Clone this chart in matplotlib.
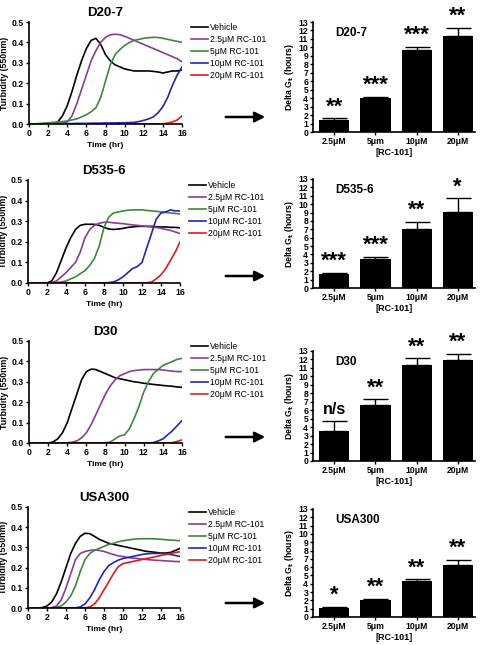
import matplotlib
matplotlib.use("Agg")
import matplotlib.pyplot as plt
import numpy as np

plt.rcParams['font.family'] = ['Liberation Sans', 'DejaVu Sans']

# ---------------- data ----------------
hours = [0, 0.5, 1, 1.5, 2, 2.5, 3, 3.5, 4, 4.5, 5, 5.5, 6, 6.5, 7, 7.5, 8,
         8.5, 9, 9.5, 10, 10.5, 11, 11.5, 12, 12.5, 13, 13.5, 14, 14.5, 15, 15.5, 16]

series_names = ["Vehicle", "2.5\u03bcM RC-101", "5\u03bcM RC-101", "10\u03bcM RC-101", "20\u03bcM RC-101"]
strains = ["D20-7", "D535-6", "D30", "USA300"]

# D20-7
d207_vehicle = [0, 0, 0, 0, 0, 0.002, 0.01, 0.04, 0.09, 0.16, 0.24, 0.31, 0.37, 0.41, 0.42, 0.39, 0.34,
                0.31, 0.29, 0.28, 0.27, 0.265, 0.26, 0.26, 0.26, 0.26, 0.258, 0.255, 0.25, 0.255, 0.26, 0.26, 0.265]
d207_c25 = [0, 0, 0, 0, 0.001, 0.002, 0.003, 0.005, 0.01, 0.04, 0.10, 0.17, 0.24, 0.31, 0.36, 0.40, 0.425,
            0.437, 0.44, 0.438, 0.43, 0.42, 0.41, 0.40, 0.39, 0.38, 0.37, 0.36, 0.35, 0.34, 0.33, 0.32, 0.305]
d207_c5 = [0, 0, 0.002, 0.004, 0.006, 0.008, 0.01, 0.012, 0.015, 0.02, 0.025, 0.035, 0.045, 0.06, 0.08, 0.13, 0.21,
           0.29, 0.34, 0.365, 0.385, 0.40, 0.41, 0.415, 0.42, 0.423, 0.425, 0.424, 0.42, 0.415, 0.41, 0.405, 0.40]
d207_c10 = [0, 0, 0, 0, 0, 0, 0.001, 0.001, 0.002, 0.002, 0.003, 0.003, 0.003, 0.004, 0.004, 0.004, 0.005,
            0.005, 0.005, 0.006, 0.006, 0.007, 0.008, 0.012, 0.018, 0.025, 0.035, 0.055, 0.085, 0.13, 0.19, 0.24, 0.28]
d207_c20 = [0, 0, 0, 0, 0, 0, 0, 0, 0, 0, 0, 0, 0, 0, 0, 0, 0,
            0, 0, 0, 0, 0, 0, 0, 0, 0, 0, 0, 0.001, 0.005, 0.01, 0.02, 0.04]

# D535-6
d535_vehicle = [0, 0, 0, 0, 0, 0.01, 0.05, 0.11, 0.17, 0.22, 0.26, 0.28, 0.285, 0.285, 0.285, 0.28, 0.27,
                0.262, 0.26, 0.262, 0.265, 0.27, 0.272, 0.275, 0.275, 0.275, 0.275, 0.273, 0.272, 0.272, 0.27, 0.27, 0.268]
d535_c25 = [0, 0, 0, 0, 0, 0.002, 0.01, 0.03, 0.05, 0.075, 0.10, 0.15, 0.22, 0.26, 0.28, 0.29, 0.295,
            0.295, 0.292, 0.29, 0.288, 0.285, 0.282, 0.28, 0.277, 0.275, 0.272, 0.27, 0.265, 0.26, 0.255, 0.248, 0.24]
d535_c5 = [0, 0, 0, 0, 0, 0, 0.002, 0.005, 0.01, 0.02, 0.03, 0.045, 0.06, 0.085, 0.12, 0.18, 0.27,
           0.32, 0.34, 0.345, 0.35, 0.353, 0.355, 0.355, 0.355, 0.352, 0.35, 0.348, 0.345, 0.342, 0.34, 0.338, 0.335]
d535_c10 = [0, 0, 0, 0, 0, 0, 0, 0, 0, 0, 0, 0, 0, 0, 0, 0, 0.001,
            0.002, 0.005, 0.015, 0.03, 0.05, 0.07, 0.08, 0.10, 0.17, 0.24, 0.31, 0.34, 0.345, 0.355, 0.35, 0.35]
d535_c20 = [0, 0, 0, 0, 0, 0, 0, 0, 0, 0, 0, 0, 0, 0, 0, 0, 0,
            0, 0, 0, 0, 0, 0, 0, 0, 0.001, 0.005, 0.02, 0.04, 0.07, 0.11, 0.15, 0.20]

# D30
d30_vehicle = [0, 0, 0, 0, 0, 0.005, 0.02, 0.05, 0.10, 0.17, 0.24, 0.31, 0.35, 0.362, 0.36, 0.35, 0.34,
               0.33, 0.32, 0.315, 0.31, 0.305, 0.30, 0.297, 0.293, 0.29, 0.287, 0.285, 0.282, 0.28, 0.278, 0.275, 0.273]
d30_c25 = [0, 0, 0, 0, 0, 0, 0, 0, 0.001, 0.004, 0.01, 0.025, 0.05, 0.09, 0.14, 0.19, 0.24,
           0.28, 0.31, 0.33, 0.34, 0.35, 0.355, 0.357, 0.36, 0.36, 0.36, 0.36, 0.358, 0.355, 0.352, 0.35, 0.35]
d30_c5 = [0, 0, 0, 0, 0, 0, 0, 0, 0, 0, 0, 0, 0, 0, 0, 0, 0.001,
          0.005, 0.02, 0.035, 0.04, 0.07, 0.12, 0.18, 0.25, 0.30, 0.34, 0.36, 0.38, 0.39, 0.40, 0.41, 0.415]
d30_c10 = [0, 0, 0, 0, 0, 0, 0, 0, 0, 0, 0, 0, 0, 0, 0, 0, 0,
           0, 0, 0, 0, 0, 0, 0, 0, 0, 0.002, 0.01, 0.02, 0.04, 0.06, 0.085, 0.11]
d30_c20 = [0, 0, 0, 0, 0, 0, 0, 0, 0, 0, 0, 0, 0, 0, 0, 0, 0,
           0, 0, 0, 0, 0, 0, 0, 0, 0, 0, 0, 0, 0, 0.002, 0.008, 0.015]

# USA300
usa_vehicle = [0, 0, 0, 0.002, 0.01, 0.03, 0.07, 0.13, 0.20, 0.27, 0.32, 0.355, 0.37, 0.368, 0.355, 0.34, 0.33,
               0.32, 0.315, 0.31, 0.305, 0.30, 0.295, 0.29, 0.285, 0.28, 0.278, 0.275, 0.272, 0.272, 0.275, 0.285, 0.295]
usa_c25 = [0, 0, 0, 0, 0, 0.002, 0.01, 0.04, 0.10, 0.17, 0.24, 0.27, 0.28, 0.285, 0.288, 0.285, 0.28,
           0.272, 0.265, 0.258, 0.255, 0.25, 0.247, 0.245, 0.242, 0.24, 0.238, 0.236, 0.235, 0.233, 0.232, 0.23, 0.23]
usa_c5 = [0, 0, 0, 0, 0, 0, 0.003, 0.01, 0.03, 0.06, 0.11, 0.18, 0.24, 0.27, 0.285, 0.295, 0.305,
          0.315, 0.32, 0.328, 0.333, 0.336, 0.34, 0.342, 0.343, 0.343, 0.343, 0.342, 0.34, 0.338, 0.336, 0.335, 0.333]
usa_c10 = [0, 0, 0, 0, 0, 0, 0, 0, 0, 0, 0.001, 0.005, 0.02, 0.05, 0.09, 0.14, 0.18,
           0.21, 0.225, 0.237, 0.245, 0.25, 0.255, 0.26, 0.265, 0.268, 0.27, 0.27, 0.27, 0.268, 0.265, 0.26, 0.255]
usa_c20 = [0, 0, 0, 0, 0, 0, 0, 0, 0, 0, 0, 0, 0.001, 0.005, 0.02, 0.05, 0.09,
           0.13, 0.17, 0.205, 0.22, 0.225, 0.23, 0.235, 0.24, 0.245, 0.25, 0.255, 0.26, 0.265, 0.27, 0.275, 0.278]

curves = {
    "D20-7": [d207_vehicle, d207_c25, d207_c5, d207_c10, d207_c20],
    "D535-6": [d535_vehicle, d535_c25, d535_c5, d535_c10, d535_c20],
    "D30": [d30_vehicle, d30_c25, d30_c5, d30_c10, d30_c20],
    "USA300": [usa_vehicle, usa_c25, usa_c5, usa_c10, usa_c20],
}

bar_labels = ["2.5\u03bcM", "5\u03bcm", "10\u03bcM", "20\u03bcM"]
bar_means = {
    "D20-7": [1.4, 4.0, 9.7, 11.3],
    "D535-6": [1.7, 3.5, 7.0, 9.1],
    "D30": [3.5, 6.6, 11.3, 11.9],
    "USA300": [1.1, 2.1, 4.3, 6.3],
}
bar_errs = {
    "D20-7": [0.2, 0.15, 0.4, 1.0],
    "D535-6": [0.1, 0.2, 0.9, 1.6],
    "D30": [1.2, 0.7, 0.85, 0.8],
    "USA300": [0.1, 0.1, 0.25, 0.6],
}
bar_sig = {
    "D20-7": ["**", "***", "***", "**"],
    "D535-6": ["***", "***", "**", "*"],
    "D30": ["n/s", "**", "**", "**"],
    "USA300": ["*", "**", "**", "**"],
}

colors = ["#000000", "#8A3C98", "#3A8A3A", "#2424B8", "#E41A1A"]

# ---------------- layout ----------------
W, H = 480, 645
fig = plt.figure(figsize=(W / 100, H / 100), dpi=100)

def fx(px):
    return px / W

def fy(py):
    return 1 - py / H

left_boxes = [(29, 182, 22, 124), (28, 180, 180, 283), (29, 182, 341, 443), (28, 180, 507, 608)]
right_boxes = [(313, 475, 22, 132), (313, 475, 179, 288), (313, 475, 351, 461), (313, 475, 509, 617)]
arrow_y = [117, 276, 437, 603]

tick_fs = 6.2

for i, strain in enumerate(strains):
    # ---- left growth curves ----
    x0, x1, y0, y1 = left_boxes[i]
    ax = fig.add_axes([fx(x0), fy(y1), fx(x1) - fx(x0), (y1 - y0) / H])
    for name, vals, c in zip(series_names, curves[strain], colors):
        ax.plot(hours, vals, color=c, lw=1.2, label=name)
    ax.set_xlim(0, 16)
    ax.set_ylim(0, 0.5)
    ax.set_xticks([0, 2, 4, 6, 8, 10, 12, 14, 16])
    ax.set_yticks([0.0, 0.1, 0.2, 0.3, 0.4, 0.5])
    ax.set_yticklabels(["0.0", "0.1", "0.2", "0.3", "0.4", "0.5"])
    for s in ["top", "right"]:
        ax.spines[s].set_visible(False)
    for s in ["left", "bottom"]:
        ax.spines[s].set_linewidth(1.2)
    ax.tick_params(labelsize=tick_fs, length=2.5, width=1.0, pad=1)
    for lb in ax.get_xticklabels() + ax.get_yticklabels():
        lb.set_fontweight("bold")
    ax.set_xlabel("Time (hr)", fontsize=6.0, fontweight="bold", labelpad=3)
    ax.set_ylabel("Turbidity (550nm)", fontsize=6.3, fontweight="bold", labelpad=2)
    ax.set_title(strain, fontsize=9.5, fontweight="bold", pad=4)
    ax.legend(loc="upper left", bbox_to_anchor=(1.055, 1.0), frameon=False,
              fontsize=6.2, handlelength=2.0, handletextpad=0.15, labelspacing=0.35,
              borderaxespad=0.0, borderpad=0.1)

    # ---- arrow ----
    fig.patches.append(matplotlib.patches.FancyArrowPatch(
        (fx(223), fy(arrow_y[i])), (fx(268), fy(arrow_y[i])),
        transform=fig.transFigure, arrowstyle="-|>,head_length=6,head_width=3",
        color="black", lw=1.8, mutation_scale=1))

    # ---- right bar chart ----
    x0, x1, y0, y1 = right_boxes[i]
    bx = fig.add_axes([fx(x0), fy(y1), fx(x1) - fx(x0), (y1 - y0) / H])
    pos = np.arange(len(bar_labels))
    means = bar_means[strain]
    errs = bar_errs[strain]
    bx.bar(pos, means, width=0.73, color="black")
    bx.errorbar(pos, means, yerr=[[0] * len(errs), errs], fmt="none", ecolor="black",
                elinewidth=1.0, capsize=9, capthick=1.0)
    for p, m, e, s in zip(pos, means, errs, bar_sig[strain]):
        if s == "n/s":
            bx.text(p, m + e + 0.5, s, ha="center", va="bottom", fontsize=11.5, fontweight="bold")
        else:
            bx.text(p, m + e + 0.1, s, ha="center", va="bottom", fontsize=16, fontweight="bold")
    bx.set_xlim(-0.52, 3.42)
    bx.set_ylim(0, 13)
    bx.set_yticks(list(range(0, 14)))
    bx.set_xticks(pos)
    bx.set_xticklabels(bar_labels)
    for s in ["top", "right"]:
        bx.spines[s].set_visible(False)
    for s in ["left", "bottom"]:
        bx.spines[s].set_linewidth(1.2)
    bx.tick_params(labelsize=tick_fs, length=2.5, width=1.0, pad=1)
    bx.tick_params(axis="x", length=2, pad=1.5)
    for lb in bx.get_xticklabels() + bx.get_yticklabels():
        lb.set_fontweight("bold")
    bx.set_ylabel(r"Delta G$_\mathbf{t}$ (hours)", fontsize=6.3, fontweight="bold", labelpad=2)
    bx.set_xlabel("[RC-101]", fontsize=6.5, fontweight="bold", labelpad=1.5)
    bx.text(0.135, 0.9, strain, transform=bx.transAxes, fontsize=8.5, fontweight="bold",
            ha="left", va="center")

fig.savefig("out.png", dpi=100)
